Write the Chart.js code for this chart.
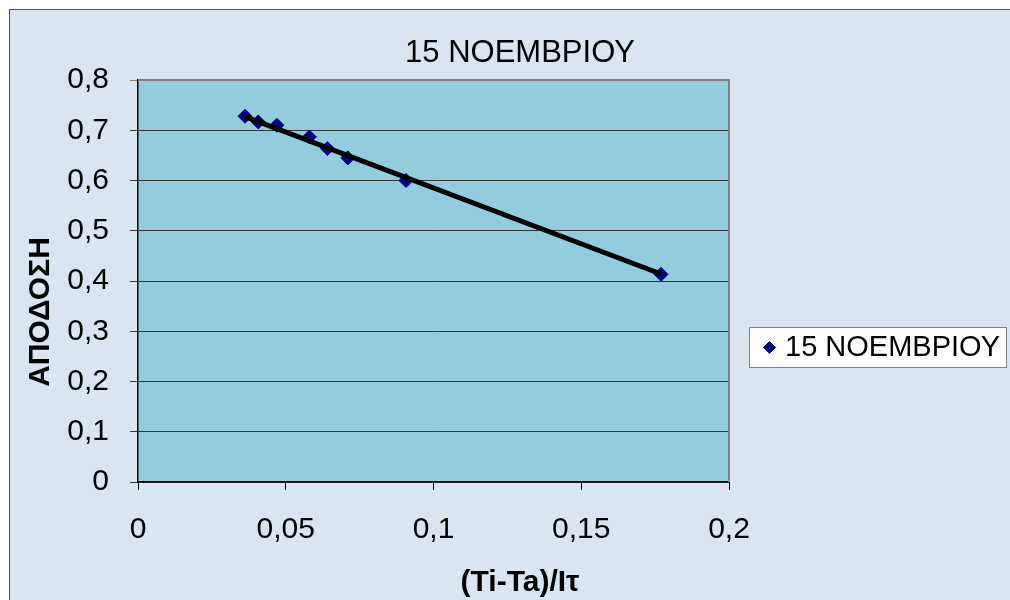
<!DOCTYPE html>
<html>
<head>
<meta charset="utf-8">
<title>15 ΝΟΕΜΒΡΙΟΥ</title>
<script src="https://cdn.jsdelivr.net/npm/chart.js@4.4.1/dist/chart.umd.min.js"></script>
<style>
  html, body { margin: 0; padding: 0; background: #fff; }
  canvas { display: block; }
</style>
</head>
<body>
<canvas id="efficiencyChart" width="1010" height="600"></canvas>
<script>
const FONT = "'Liberation Sans', Arial, sans-serif";

const chartTitle = '15 ΝΟΕΜΒΡΙΟΥ';
const seriesName = '15 ΝΟΕΜΒΡΙΟΥ';
const xAxisTitle = '(Ti-Ta)/Iτ';
const yAxisTitle = 'ΑΠΟΔΟΣΗ';

// measured points: (Ti-Ta)/Iτ against efficiency
const xValues = [0.0362, 0.0407, 0.0470, 0.0580, 0.0641, 0.0710, 0.0907, 0.1770];
const yValues = [0.728, 0.7165, 0.710, 0.6867, 0.6636, 0.645, 0.600, 0.4133];

// linear trendline, first and last point
const trendX = [0.0362, 0.1770];
const trendY = [0.727, 0.414];

const xTickLabels = ['0', '0,05', '0,1', '0,15', '0,2'];
const yTickLabels = ['0', '0,1', '0,2', '0,3', '0,4', '0,5', '0,6', '0,7', '0,8'];

const toPoints = (xs, ys) => xs.map((x, i) => ({ x: x, y: ys[i] }));

const markerStyle = {
    pointStyle: 'rectRot',
    radius: 7,
    backgroundColor: '#000080',
    borderColor: '#000080',
    borderWidth: 1
};

// background, frame, plot fill, title, axis titles and legend box
const chartFrame = {
    id: 'chartFrame',
    beforeDraw(chart) {
        const { ctx, chartArea: a, width, height } = chart;
        ctx.save();
        ctx.fillStyle = '#ffffff';
        ctx.fillRect(0, 0, width, height);
        ctx.fillStyle = '#dbe5f1';
        ctx.fillRect(9, 9, width, height);
        ctx.strokeStyle = '#555555';
        ctx.lineWidth = 1;
        ctx.strokeRect(9.5, 9.5, width + 10, height + 10);
        ctx.fillStyle = '#93cddd';
        ctx.fillRect(a.left, a.top, a.right - a.left, a.bottom - a.top);
        ctx.restore();
    },
    afterDraw(chart) {
        const { ctx, chartArea: a } = chart;
        ctx.save();

        // plot border top/right
        ctx.strokeStyle = '#808080';
        ctx.lineWidth = 2;
        ctx.beginPath();
        ctx.moveTo(a.left, a.top);
        ctx.lineTo(a.right, a.top);
        ctx.lineTo(a.right, a.bottom);
        ctx.stroke();

        ctx.fillStyle = '#000000';
        ctx.textAlign = 'center';
        ctx.textBaseline = 'alphabetic';
        ctx.font = '31px ' + FONT;
        ctx.fillText(chartTitle, 520, 62);

        ctx.font = 'bold 30px ' + FONT;
        ctx.fillText(xAxisTitle, 520, 591);

        ctx.translate(40, 312);
        ctx.rotate(-Math.PI / 2);
        ctx.textBaseline = 'middle';
        ctx.fillText(yAxisTitle, 0, 1);
        ctx.setTransform(1, 0, 0, 1, 0, 0);

        // legend
        ctx.fillStyle = '#ffffff';
        ctx.fillRect(749, 327, 258, 41);
        ctx.strokeStyle = '#808080';
        ctx.lineWidth = 1;
        ctx.strokeRect(749.5, 327.5, 257, 40);
        ctx.fillStyle = markerStyle.backgroundColor;
        ctx.strokeStyle = markerStyle.borderColor;
        Chart.helpers.drawPoint(ctx, {
            pointStyle: 'rectRot', radius: 6, borderWidth: 1
        }, 769.5, 347.5);
        ctx.fillStyle = '#000000';
        ctx.textAlign = 'left';
        ctx.textBaseline = 'middle';
        ctx.font = '29px ' + FONT;
        ctx.fillText(chart.data.datasets[0].label, 785, 348);

        ctx.restore();
    }
};

const config = {
    type: 'scatter',
    data: {
        datasets: [
            {
                label: seriesName,
                data: toPoints(xValues, yValues),
                pointStyle: markerStyle.pointStyle,
                pointRadius: markerStyle.radius,
                pointBackgroundColor: markerStyle.backgroundColor,
                pointBorderColor: markerStyle.borderColor,
                pointBorderWidth: markerStyle.borderWidth,
                showLine: false,
                order: 2
            },
            {
                label: 'trend',
                type: 'line',
                data: toPoints(trendX, trendY),
                borderColor: '#000000',
                borderWidth: 5,
                pointRadius: 0,
                fill: false,
                order: 1
            }
        ]
    },
    options: {
        responsive: false,
        animation: false,
        events: [],
        layout: {
            padding: { left: 0, right: 281, top: 80, bottom: 0 }
        },
        plugins: {
            legend: { display: false },
            title: { display: false },
            tooltip: { enabled: false }
        },
        scales: {
            x: {
                type: 'linear',
                min: 0,
                max: 0.2,
                afterFit: (scale) => { scale.height = 118; },
                ticks: {
                    stepSize: 0.05,
                    color: '#000000',
                    padding: 22,
                    maxRotation: 0,
                    font: { family: FONT, size: 30 },
                    callback: (value, index) => xTickLabels[index]
                },
                grid: {
                    drawOnChartArea: false,
                    drawTicks: true,
                    tickLength: 8,
                    tickColor: '#000000'
                },
                border: { color: '#000000', width: 1.5 }
            },
            y: {
                type: 'linear',
                min: 0,
                max: 0.8,
                afterFit: (scale) => { scale.width = 138; },
                ticks: {
                    stepSize: 0.1,
                    color: '#000000',
                    padding: 21,
                    font: { family: FONT, size: 30 },
                    callback: (value, index) => yTickLabels[index]
                },
                grid: {
                    color: (c) => c.index === yTickLabels.length - 1 ? '#808080' : '#353535',
                    tickColor: (c) => c.index === yTickLabels.length - 1 ? '#808080' : '#353535',
                    lineWidth: 1,
                    tickLength: 8
                },
                border: { color: '#000000', width: 1.5 }
            }
        }
    },
    plugins: [chartFrame]
};

const efficiencyChart = new Chart(document.getElementById('efficiencyChart'), config);
</script>
</body>
</html>
